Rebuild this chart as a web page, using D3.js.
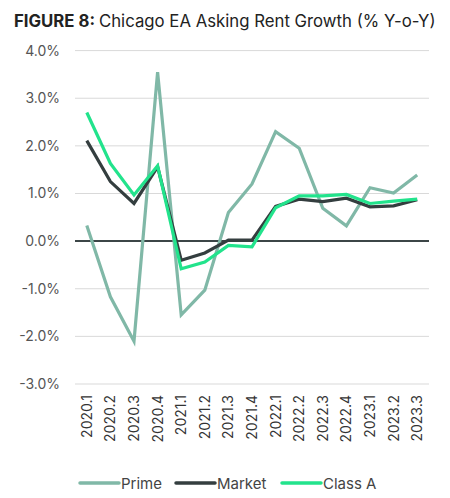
<!DOCTYPE html>
<html>
<head>
<meta charset="utf-8">
<title>Chicago EA Asking Rent Growth</title>
<script src="https://cdnjs.cloudflare.com/ajax/libs/d3/7.8.5/d3.min.js"></script>
<style>
  body { margin: 0; background: #fff; }
  text { font-family: Inter, "Noto Sans", sans-serif; }
</style>
</head>
<body>
<script>
var quarters = ["2020.1","2020.2","2020.3","2020.4","2021.1","2021.2","2021.3","2021.4",
                "2022.1","2022.2","2022.3","2022.4","2023.1","2023.2","2023.3"];
var prime  = [0.33,-1.17,-2.10,3.55,-1.55,-1.03,0.60,1.20,2.30,1.95,0.69,0.32,1.12,1.01,1.39];
var market = [2.11,1.25,0.79,1.56,-0.40,-0.25,0.02,0.02,0.73,0.88,0.83,0.90,0.72,0.74,0.87];
var classA = [2.70,1.63,0.97,1.58,-0.58,-0.44,-0.09,-0.12,0.70,0.95,0.95,0.98,0.79,0.84,0.88];
var yTicks = [4,3,2,1,0,-1,-2,-3];
var seriesNames = ["Prime","Market","Class A"];
var colors = ["#80b8a7","#343e3f","#22e38c"];

var W = 450, H = 498;
var margin = {left: 75, right: 21, top: 50.6, bottom: 114};

var svg = d3.select("body").append("svg")
    .attr("width", W)
    .attr("height", H);

// title - shrink until it fits the width used in the original
var title = svg.append("text")
    .attr("x", 14)
    .attr("y", 27)
    .attr("font-size", 18.5)
    .attr("fill", "#222");
title.append("tspan").attr("font-weight", "bold").text("FIGURE 8: ");
title.append("tspan").text("Chicago EA Asking Rent Growth (% Y-o-Y)");
var fs = 18.5;
while (title.node().getComputedTextLength() > 423 && fs > 10) {
  fs -= 0.25;
  title.attr("font-size", fs);
}

var x = d3.scalePoint()
    .domain(quarters)
    .range([margin.left, W - margin.right])
    .padding(0.5);

var y = d3.scaleLinear()
    .domain([-3, 4])
    .range([H - margin.bottom, margin.top]);

// gridlines
svg.selectAll(".grid")
    .data(yTicks.filter(function(d){ return d != 0; }))
  .enter().append("line")
    .attr("class", "grid")
    .attr("x1", margin.left)
    .attr("x2", W - margin.right)
    .attr("y1", function(d){ return y(d); })
    .attr("y2", function(d){ return y(d); })
    .attr("stroke", "#d9d9d9")
    .attr("stroke-width", 1);

// y labels
svg.selectAll(".ylab")
    .data(yTicks)
  .enter().append("text")
    .attr("class", "ylab")
    .attr("x", 60)
    .attr("y", function(d){ return y(d) + 5; })
    .attr("text-anchor", "end")
    .attr("font-size", 14)
    .attr("fill", "#555")
    .text(function(d){ return d.toFixed(1) + "%"; });

// zero line
svg.append("line")
    .attr("x1", margin.left)
    .attr("x2", W - margin.right)
    .attr("y1", y(0))
    .attr("y2", y(0))
    .attr("stroke", "#3c4647")
    .attr("stroke-width", 2);

// x labels
svg.selectAll(".xlab")
    .data(quarters)
  .enter().append("text")
    .attr("class", "xlab")
    .attr("transform", function(d){ return "translate(" + (x(d) + 5) + "," + 395 + ") rotate(-90)"; })
    .attr("text-anchor", "end")
    .attr("font-size", 14)
    .attr("fill", "#333")
    .text(function(d){ return d; });

var line = d3.line()
    .x(function(d, i){ return x(quarters[i]); })
    .y(function(d){ return y(d); });

[prime, market, classA].forEach(function(s, i){
  svg.append("path")
      .datum(s)
      .attr("d", line)
      .attr("fill", "none")
      .attr("stroke", colors[i])
      .attr("stroke-width", 3.2)
      .attr("stroke-linejoin", "miter");
});

// legend
var legX = [80, 176, 282];
var leg = svg.selectAll(".leg")
    .data(seriesNames)
  .enter().append("g")
    .attr("class", "leg")
    .attr("transform", function(d, i){ return "translate(" + legX[i] + ",483)"; });
leg.append("line")
    .attr("x1", 0).attr("x2", 39)
    .attr("stroke", function(d, i){ return colors[i]; })
    .attr("stroke-width", 3.5)
    .attr("stroke-linecap", "round");
leg.append("text")
    .attr("x", 41)
    .attr("y", 5.5)
    .attr("font-size", 15)
    .attr("fill", "#444")
    .text(function(d){ return d; });
</script>
</body>
</html>
